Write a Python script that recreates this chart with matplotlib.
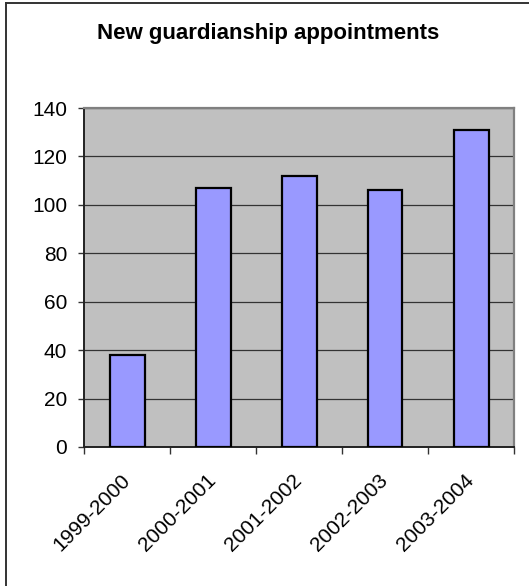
import matplotlib

matplotlib.use("Agg")
import matplotlib.pyplot as plt
from matplotlib.lines import Line2D
from matplotlib.transforms import ScaledTranslation

plt.rcParams["font.family"] = ["Liberation Sans", "DejaVu Sans"]

# new appointments per financial year
years = ["1999-2000", "2000-2001", "2001-2002", "2002-2003", "2003-2004"]
appointments = [38, 107, 112, 106, 131]
y_ticks = [0, 20, 40, 60, 80, 100, 120, 140]

W, H = 529, 586
fig = plt.figure(figsize=(W / 100, H / 100), dpi=100)
ax = fig.add_axes([84.3 / W, 1 - 447 / H, 430 / W, 339 / H])

ax.set_facecolor("#c0c0c0")
x = range(len(years))
ax.bar(x, appointments, width=0.4, color="#9999ff", edgecolor="black",
       linewidth=1.6, zorder=3)

ax.set_xlim(-0.5, len(years) - 0.5)
ax.set_ylim(0, 140)
ax.set_yticks(y_ticks)
ax.yaxis.grid(True, color="#333333", linewidth=0.9, zorder=1)
ax.set_axisbelow(True)

# category ticks sit between the bars, labels at bar centres
ax.set_xticks([i - 0.5 for i in range(len(years) + 1)])
ax.set_xticks(list(x), minor=True)
ax.set_xticklabels([])
ax.set_xticklabels(years, minor=True, rotation=45, ha="right", va="center",
                   rotation_mode="anchor", fontsize=15)
shift = ScaledTranslation(-10 / 100, 0, fig.dpi_scale_trans)
for lbl in ax.get_xticklabels(minor=True):
    lbl.set_transform(lbl.get_transform() + shift)
ax.tick_params(axis="x", which="major", length=5, width=1, color="#333333",
               direction="out")
ax.tick_params(axis="x", which="minor", length=0, pad=22)
ax.tick_params(axis="y", length=4.3, width=1, color="#333333", labelsize=15,
               pad=8)

for side in ("left", "bottom"):
    ax.spines[side].set_color("#222222")
    ax.spines[side].set_linewidth(1.4)
for side in ("top", "right"):
    ax.spines[side].set_color("#808080")
    ax.spines[side].set_linewidth(1.6)

fig.text(268 / W, 1 - 34 / H, "New guardianship appointments",
         ha="center", va="center", fontsize=16, fontweight="bold")

# chart-area frame (only the top and left edges fall inside the image)
fig.add_artist(Line2D([5.5 / W, 5.5 / W], [0, 1 - 2.5 / H], color="#333333",
                      linewidth=1.4, transform=fig.transFigure))
fig.add_artist(Line2D([5.5 / W, 1], [1 - 2.5 / H, 1 - 2.5 / H],
                      color="#333333", linewidth=1.4,
                      transform=fig.transFigure))

fig.savefig("out.png", dpi=100)
